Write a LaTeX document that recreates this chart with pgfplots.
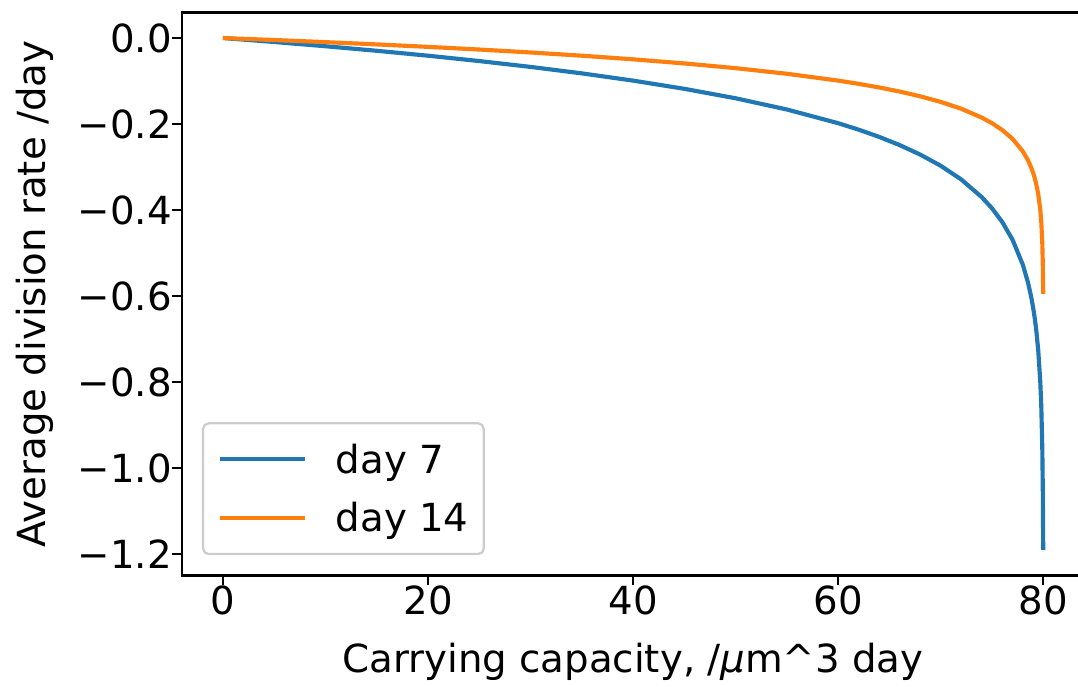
\documentclass[border=0pt]{standalone}
\usepackage{pgfplots}
\pgfplotsset{compat=1.18}
\usepackage{fontspec}
\setmainfont{DejaVu Sans}
\definecolor{tabblue}{RGB}{31,119,180}
\definecolor{taborange}{RGB}{255,127,14}
\newcommand{\fs}{\fontsize{14}{17}\selectfont}
\begin{document}
\begin{tikzpicture}
\begin{axis}[
  scale only axis,
  width=326.5pt, height=203.7pt,
  xmin=-4, xmax=84,
  ymin=-1.2495, ymax=0.0595,
  axis line style={line width=0.8pt},
  tick pos=left,
  tick align=outside,
  major tick length=3.5pt,
  every tick/.style={black, line width=0.8pt},
  xtick={0,20,40,60,80},
  xticklabels={0,20,40,60,80},
  ytick={-1.2,-1.0,-0.8,-0.6,-0.4,-0.2,0},
  yticklabels={−1.2,−1.0,−0.8,−0.6,−0.4,−0.2,0.0},
  tick label style={font=\fs},
  xticklabel style={anchor=north, inner sep=0pt},
  yticklabel style={anchor=east, inner sep=0pt},
  every axis x label/.style={at={([yshift=-35pt]axis description cs:0.5,0)}, anchor=base, inner sep=0pt, font=\fs},
  every axis y label/.style={at={([xshift=-49.3pt]axis description cs:0,0.5)}, rotate=90, anchor=base, inner sep=0pt, font=\fs},
  xlabel={Carrying capacity, /{\itshape μ}m\textasciicircum 3 day},
  ylabel={Average division rate /day},
  legend style={
    at={(axis description cs:0.0223,0.0361)}, anchor=south west,
    draw=black!20, line width=0.8pt, rounded corners=2pt,
    fill=white, font=\fs,
    inner xsep=5.5pt, inner ysep=5pt,
    row sep=5.3pt, column sep=10.5pt,
    nodes={inner sep=0pt, text height=13pt, text depth=3pt},
    cells={anchor=west},
  },
  legend image code/.code={\draw[#1] (0pt,0pt) -- (30.5pt,0pt);},
]
\coordinate (SW) at (rel axis cs:0,0);
\coordinate (NE) at (rel axis cs:1,1);
\addplot[tabblue, line width=1.5pt] coordinates {
(0,0) (5,-0.00922) (10,-0.01908) (15,-0.02966) (20,-0.04110) (25,-0.05353)
(30,-0.06714) (35,-0.08219) (40,-0.09902) (45,-0.11810) (50,-0.14012)
(55,-0.16616) (60,-0.19804) (62,-0.21309) (64,-0.22992) (66,-0.24900)
(68,-0.27102) (70,-0.29706) (72,-0.32894) (74,-0.37004) (75,-0.39608)
(76,-0.42796) (77,-0.46906) (78,-0.52698) (78.5,-0.56808) (78.8,-0.59996)
(79,-0.62600) (79.15,-0.64922) (79.3,-0.67696) (79.5,-0.72502) (79.7,-0.79800)
(79.8,-0.85592) (79.9,-0.95494) (79.95,-1.05397) (79.97,-1.12690) (79.99,-1.19)
};
\addlegendentry{day 7}
\addplot[taborange, line width=1.5pt] coordinates {
(0,0) (5,-0.00461) (10,-0.00954) (15,-0.01483) (20,-0.02055) (25,-0.02677)
(30,-0.03357) (35,-0.04110) (40,-0.04951) (45,-0.05905) (50,-0.07006)
(55,-0.08308) (60,-0.09902) (62,-0.10655) (64,-0.11496) (66,-0.12450)
(68,-0.13551) (70,-0.14853) (72,-0.16447) (74,-0.18502) (75,-0.19804)
(76,-0.21398) (77,-0.23453) (78,-0.26349) (78.5,-0.28404) (78.8,-0.29998)
(79,-0.31300) (79.15,-0.32461) (79.3,-0.33848) (79.5,-0.36251) (79.7,-0.39900)
(79.8,-0.42796) (79.9,-0.47747) (79.95,-0.52699) (79.97,-0.56345) (79.99,-0.595)
};
\addlegendentry{day 14}
\end{axis}
\pgfresetboundingbox
\path[use as bounding box] ([shift={(-65.8pt,-40.3pt)}]SW) rectangle ([shift={(-2.3pt,4.5pt)}]NE);
\end{tikzpicture}
\end{document}
